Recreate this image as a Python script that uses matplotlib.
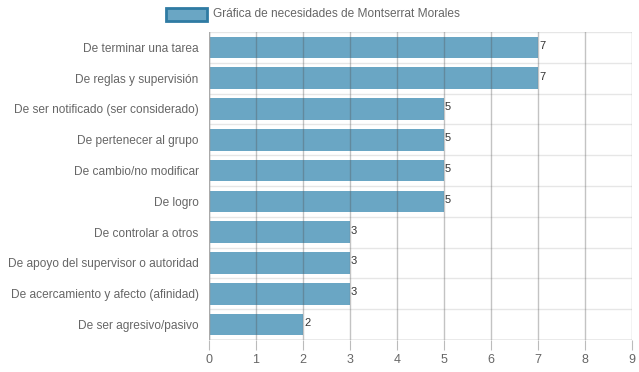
import matplotlib
matplotlib.use("Agg")
import matplotlib.pyplot as plt
from matplotlib.patches import Rectangle

plt.rcParams['font.family'] = ['Liberation Sans', 'DejaVu Sans']

categories = ['De terminar una tarea', 'De reglas y supervisión',
              'De ser notificado (ser considerado)', 'De pertenecer al grupo',
              'De cambio/no modificar', 'De logro', 'De controlar a otros',
              'De apoyo del supervisor o autoridad',
              'De acercamiento y afecto (afinidad)', 'De ser agresivo/pasivo']
values = [7, 7, 5, 5, 5, 5, 3, 3, 3, 2]
xticks = list(range(0, 10))
legend_label = 'Gráfica de necesidades de Montserrat Morales'

fig = plt.figure(figsize=(6.39, 3.72), dpi=100)
ax = fig.add_axes([209/639, (372-340)/372, (632-209)/639, (340-32)/372])

n = len(categories)
ypos = list(range(n))
ax.barh(ypos, values, height=0.7, color='#6aa6c4', zorder=1)
for y, v in zip(ypos, values):
    ax.text(v + 0.02, y - 0.05, str(v), va='center', ha='left', fontsize=8, color='#333333', zorder=3)

ax.set_ylim(n - 0.5, -0.5)
ax.set_xlim(0, 9)
ax.set_xticks(xticks)
ax.set_xticklabels([str(t) for t in xticks])
ax.set_yticks(ypos)
ax.set_yticklabels(categories)

# horizontal grid between categories
for b in [i - 0.5 for i in range(n + 1)]:
    ax.axhline(b, color='#e6e6e6', lw=1, zorder=0)
# vertical grid on top of bars
for t in xticks:
    ax.axvline(t, color='#555555', alpha=0.35, lw=1, zorder=2)

for s in ax.spines.values():
    s.set_visible(False)
ax.axvline(0, color='#aaaaaa', lw=1, zorder=2)
ax.axhline(n - 0.5, color='#aaaaaa', lw=1, zorder=2)

ax.tick_params(axis='y', length=0, pad=7.5, labelsize=8.6, labelcolor='#666666')
ax.tick_params(axis='x', length=7, color='#bbbbbb', pad=3, labelsize=9, labelcolor='#666666')

# legend
fig.patches.append(Rectangle((166/639, 1 - 21/372), 41/639, 13/372, transform=fig.transFigure,
                             facecolor='#6aa6c4', edgecolor='#2f7ba3', lw=2))
fig.text(213/639, 1 - 14/372, legend_label, fontsize=8.6, color='#666666', va='center', ha='left')

fig.savefig('out.png', dpi=100)
